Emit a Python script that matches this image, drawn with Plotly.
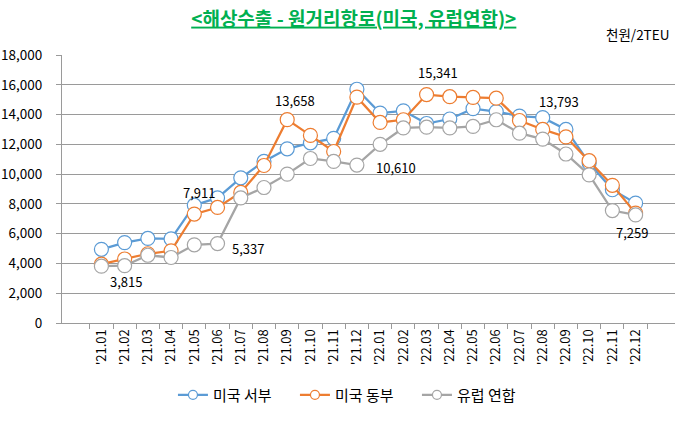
import plotly.graph_objects as go

categories = ["'21.01", "'21.02", "'21.03", "'21.04", "'21.05", "'21.06", "'21.07", "'21.08",
              "'21.09", "'21.10", "'21.11", "'21.12", "'22.01", "'22.02", "'22.03", "'22.04",
              "'22.05", "'22.06", "'22.07", "'22.08", "'22.09", "'22.10", "'22.11", "'22.12"]

us_west = [4950, 5400, 5680, 5650, 7911, 8400, 9750, 10850, 11700, 12100, 12400, 15700,
           14100, 14250, 13400, 13700, 14400, 14200, 13900, 13793, 13000, 10750, 8950, 8050]
us_east = [3950, 4300, 4650, 4850, 7315, 7760, 8770, 10580, 13658, 12600, 11520, 15170,
           13470, 13650, 15341, 15200, 15150, 15100, 13600, 13000, 12500, 10900, 9250, 7380]
eu = [3815, 3850, 4550, 4400, 5250, 5337, 8400, 9100, 10000, 11050, 10850, 10610,
      12000, 13100, 13150, 13100, 13200, 13650, 12750, 12350, 11350, 9950, 7550, 7259]

series_names = ["미국 서부", "미국 동부", "유럽 연합"]
series_colors = ["#5B9BD5", "#ED7D31", "#A5A5A5"]

y_ticks = [0, 2000, 4000, 6000, 8000, 10000, 12000, 14000, 16000, 18000]

# data labels: (series index, category index, xshift, yshift)
labels = [(2, 0, 25, -15), (0, 4, 5, 13), (2, 5, 30, -5), (1, 8, 8, 19),
          (2, 11, 39, -2), (1, 14, 11, 22), (0, 19, 16, 16), (2, 23, -4, -18)]

FONT = "Noto Sans CJK KR"

fig = go.Figure()
all_series = [us_west, us_east, eu]
for name, vals, col in zip(series_names, all_series, series_colors):
    fig.add_trace(go.Scatter(
        x=categories, y=vals, name=name, mode="lines+markers", showlegend=False,
        line=dict(color=col, width=2.25),
        marker=dict(symbol="circle", size=14, color="white",
                    line=dict(color=col, width=1.2)),
    ))
# legend-only entries with smaller markers
for name, col in zip(series_names, series_colors):
    fig.add_trace(go.Scatter(
        x=[None], y=[None], name=name, mode="lines+markers", showlegend=True,
        line=dict(color=col, width=2.25),
        marker=dict(symbol="circle", size=9, color="white",
                    line=dict(color=col, width=1.2)),
    ))

for si, ci, xs, ys in labels:
    v = all_series[si][ci]
    fig.add_annotation(x=categories[ci], y=v, text=f"{v:,}", showarrow=False,
                       xshift=xs, yshift=ys,
                       font=dict(family=FONT, size=13, color="#000000"))

fig.add_annotation(xref="paper", yref="paper", x=0.9935, y=1.0, yshift=21,
                   xanchor="right", yanchor="middle", text="천원/2TEU", showarrow=False,
                   font=dict(family=FONT, size=13.5, color="#000000"))

fig.update_layout(
    width=687, height=422,
    margin=dict(l=62, r=12, t=55, b=99, autoexpand=False),
    paper_bgcolor="white", plot_bgcolor="white",
    title=dict(text="<b><u>&lt;해상수출 - 원거리항로(미국, 유럽연합)&gt;</u></b>",
               x=0.476, xref="paper", xanchor="center", y=0.955, yanchor="middle",
               font=dict(family=FONT, size=19, color="#00B050")),
    font=dict(family=FONT, size=13, color="#000000"),
    legend=dict(orientation="h", x=0.181, xanchor="left", y=-0.269, yanchor="middle",
                font=dict(family=FONT, size=15), itemwidth=30, traceorder="normal",
                entrywidth=77, entrywidthmode="pixels"),
    showlegend=True,
)
fig.update_xaxes(type="category", tickangle=-90, showgrid=False, automargin=False,
                 showline=True, linecolor="#9A9A9A", linewidth=1,
                 ticks="outside", tickson="boundaries", ticklen=5, tickcolor="#9A9A9A",
                 tickfont=dict(family=FONT, size=13))
fig.update_yaxes(range=[0, 18000], tickvals=y_ticks, tickformat=",", automargin=False,
                 showgrid=True, gridcolor="#9A9A9A", gridwidth=1,
                 showline=True, linecolor="#9A9A9A", linewidth=1,
                 ticks="outside", ticklen=5, tickcolor="#9A9A9A",
                 ticklabelstandoff=11, zeroline=False,
                 tickfont=dict(family=FONT, size=13.5))

fig.write_html("out.html")
